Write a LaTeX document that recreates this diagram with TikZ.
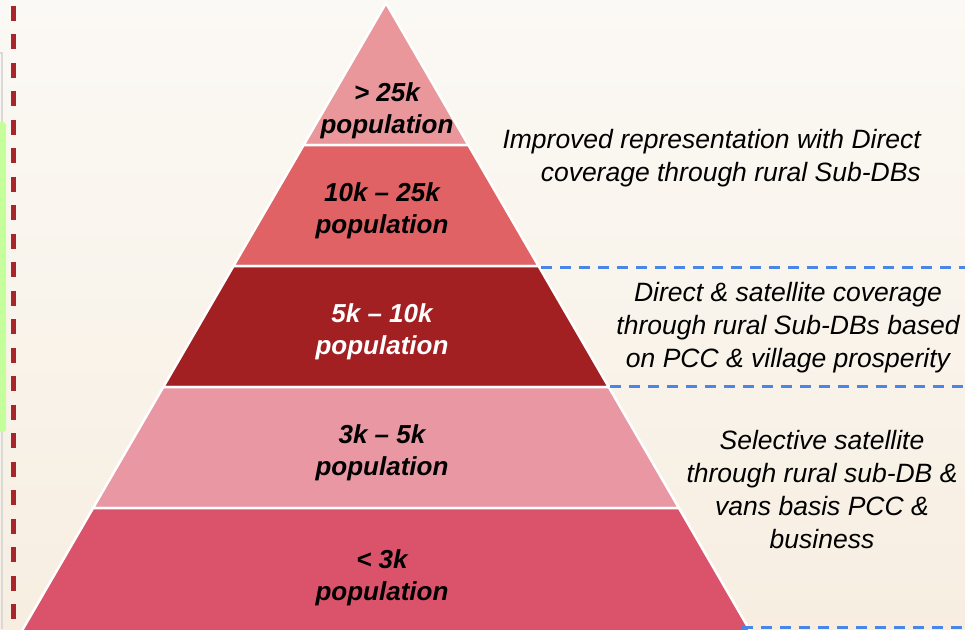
\documentclass[tikz,border=0pt]{standalone}
\usepackage{fontspec}
\setmainfont{Liberation Sans}
\usetikzlibrary{positioning}
\definecolor{creamtop}{HTML}{FBF9F5}
\definecolor{creambot}{HTML}{F7EEE1}
\definecolor{leafgreen}{HTML}{C4FF9C}
\definecolor{markred}{HTML}{A8262B}
\definecolor{cutblue}{HTML}{4A86E8}
\definecolor{tierA}{HTML}{E9979A}
\definecolor{tierB}{HTML}{E06264}
\definecolor{tierC}{HTML}{A21F22}
\definecolor{tierD}{HTML}{E897A3}
\definecolor{tierE}{HTML}{DB536A}
\tikzset{
  tier/.style={fill=#1, draw=white, line width=2.5pt, line join=round},
  tierlabel/.style={font=\fontsize{26}{32}\selectfont\bfseries\itshape, align=center, inner sep=0pt},
  note/.style={font=\fontsize{26.5}{33}\selectfont\itshape, align=center, inner sep=0pt},
  cut/.style={draw=cutblue, line width=3pt, dash pattern=on 11pt off 8pt}
}

\begin{document}
\begin{tikzpicture}[x=1pt,y=-1pt]
\useasboundingbox (0,0) rectangle (965,629);
\shade[top color=creamtop, bottom color=creambot] (0,0) rectangle (965,629);

% left margin marks
\draw[gray!30, line width=1.5pt] (0,53) -| (2,629);
\fill[leafgreen, rounded corners=3pt] (-6,122) rectangle (6,432);
\draw[markred, line width=4.5pt, dash pattern=on 15pt off 13.5pt] (13.5,5.5) -- (13.5,640);

% apex and slope of the pyramid sides
\pgfmathsetmacro\apx{386}
\pgfmathsetmacro\apy{3}
\pgfmathsetmacro\slope{0.58}

\foreach \top/\bot/\col in {3/145/tierA, 145/266/tierB, 266/387/tierC, 387/508/tierD, 508/650/tierE} {
  \pgfmathsetmacro\wt{\slope*(\top-\apy)}
  \pgfmathsetmacro\wb{\slope*(\bot-\apy)}
  \filldraw[tier=\col] (\apx-\wt,\top) -- (\apx+\wt,\top) -- (\apx+\wb,\bot) -- (\apx-\wb,\bot) -- cycle;
}

% tier labels
\node[tierlabel] (over25) at (387,111) {> 25k\\population};
\node[tierlabel] (mid10) at (382,211) {10k -- 25k\\population};
\node[tierlabel, text=white] (mid5) at (382,332) {5k -- 10k\\population};
\node[tierlabel] (mid3) at (382,453) {3k -- 5k\\population};
\node[tierlabel] (under3) at (382,578) {< 3k\\population};

% coverage notes
\node[note, align=right, anchor=east] (directnote) at (921,158) {Improved representation with Direct\\coverage through rural Sub-DBs};
\node[note] (satnote) at (788,328) {Direct \& satellite coverage\\through rural Sub-DBs based\\on PCC \& village prosperity};
\node[note] (vannote) at (822,490) {Selective satellite\\through rural sub-DB \&\\vans basis PCC \&\\business};

% dashed cuts between the note bands
\coordinate (cutA) at (541,267);
\coordinate (cutB) at (610,386);
\coordinate (cutC) at (742,627);
\draw[cut] (cutA) -- (965,267);
\draw[cut] (cutB) -- (965,386);
\draw[cut] (cutC) -- (965,627);
\end{tikzpicture}
\end{document}
